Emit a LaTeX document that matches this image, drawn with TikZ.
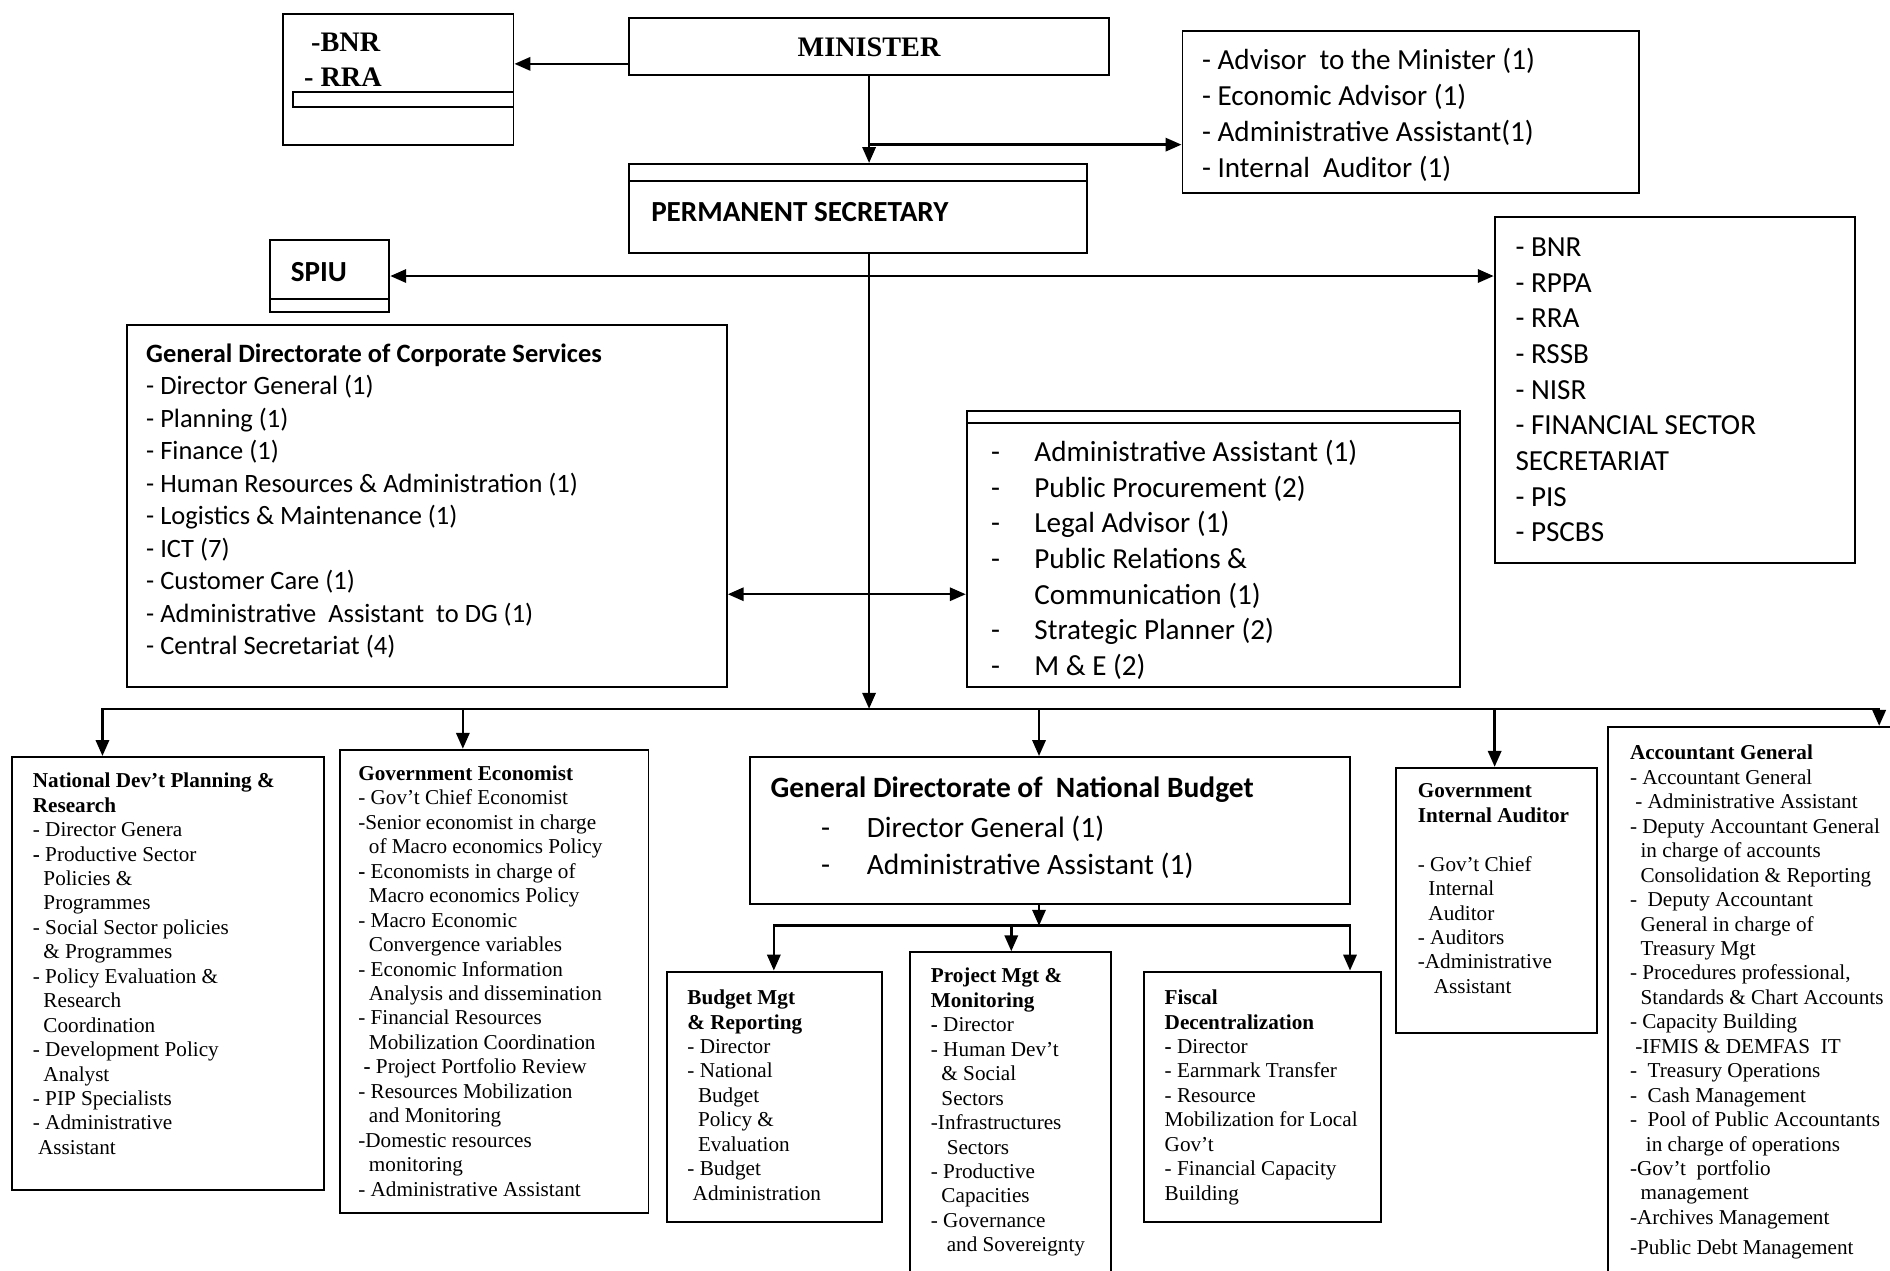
\documentclass[tikz,border=0pt]{standalone}
\usepackage{fontspec}
\setmainfont{Liberation Serif}
\newfontfamily\calfont{Carlito}
\usetikzlibrary{arrows.meta,fit}

\begin{document}
\begin{tikzpicture}[x=0.024cm, y=-0.024cm,
	box/.style={draw, line width=1.1pt, inner sep=0pt},
	link/.style={line width=1.4pt},
	arr/.style={link, -{Triangle[length=9pt,width=7.5pt]}},
	twoway/.style={link, {Triangle[length=9pt,width=7.5pt]}-{Triangle[length=9pt,width=7.5pt]}},
	cal/.style={font={\calfont\fontsize{16.5}{20.4}\selectfont}, align=left, inner sep=0pt, anchor=north west},
	tms/.style={font={\fontsize{12}{13.85}\selectfont}, align=left, inner sep=0pt, anchor=north west}]
  	\begin{scope}
	\useasboundingbox (0,0) rectangle (1568,1054);

	\node[box, fit={(235,12) (426,120)}] (bnr) {};
	\draw[line width=1.1pt] (243,76) rectangle (426,89);
	\node[box, fit={(522,15) (920,62)}] (min) {};
	\node[box, fit={(981,26) (1360,160)}] (adv) {};
	\node[box, fit={(522,136) (902,210)}] (ps) {};
	\draw[line width=1.1pt] (522,150) -- (902,150);
	\node[box, fit={(224,199) (323,259)}] (spiu) {};
	\draw[line width=1.1pt] (224,248) -- (323,248);
	\node[box, fit={(1240,180) (1539,467)}] (agen) {};
	\node[box, fit={(105,270) (603,570)}] (corp) {};
	\node[box, fit={(802,341) (1211,570)}] (supp) {};
	\draw[line width=1.1pt] (802,351) -- (1211,351);

	\node[box, fit={(10,628) (269,987)}] (natd) {};
	\node[box, fit={(282,622) (538,1006)}] (gecon) {};
	\node[box, fit={(622,628) (1120,750)}] (gdnb) {};
	\node[box, fit={(553,806) (732,1014)}] (bmgt) {};
	\node[box, fit={(755,790) (922,1080)}] (pmgt) {};
	\node[box, fit={(949,806) (1146,1014)}] (fisc) {};
	\node[box, fit={(1158,637) (1325,857)}] (gia) {};
	\node[box, fit={(1334,603) (1600,1080)}] (acg) {};

	\node[font={\bfseries\fontsize{16}{19.7}\selectfont}, align=left, inner sep=0pt, anchor=north west] (bnrt) at (252,27) {\hspace*{4pt}-BNR\\- RRA};
	\node[font={\bfseries\fontsize{16}{19}\selectfont}, inner sep=0pt] (mint) at ([yshift=-0.6pt]min.center) {MINISTER};
	\node[cal] (advt) at (997,40) {- Advisor\ \ to the Minister (1)\\- Economic Advisor (1)\\- Administrative Assistant(1)\\- Internal\ \ Auditor (1)};
	\node[cal, font={\calfont\bfseries\fontsize{16.5}{20}\selectfont}] (pst) at (540,168) {PERMANENT SECRETARY};
	\node[cal, font={\calfont\bfseries\fontsize{16.5}{20}\selectfont}] (spiut) at (241,217) {SPIU};
	\node[cal, font={\calfont\fontsize{16.5}{20.2}\selectfont}] (agent) at (1257,197) {- BNR\\- RPPA\\- RRA\\- RSSB\\- NISR\\- FINANCIAL SECTOR\\SECRETARIAT\\- PIS\\- PSCBS};
	\node[cal, font={\calfont\fontsize{15}{18.4}\selectfont}] (corpt) at (121,285) {\textbf{General Directorate of Corporate Services}\\- Director General (1)\\- Planning (1)\\- Finance (1)\\- Human Resources \& Administration (1)\\- Logistics \& Maintenance (1)\\- ICT (7)\\- Customer Care (1)\\- Administrative\ \ Assistant\ \ to DG (1)\\- Central Secretariat (4)};
	\node[cal, font={\calfont\fontsize{16.5}{20.2}\selectfont}] (suppt) at (822,365) {\makebox[24.5pt][l]{-}Administrative Assistant (1)\\\makebox[24.5pt][l]{-}Public Procurement (2)\\\makebox[24.5pt][l]{-}Legal Advisor (1)\\\makebox[24.5pt][l]{-}Public Relations \&\\\hspace*{24.5pt}Communication (1)\\\makebox[24.5pt][l]{-}Strategic Planner (2)\\\makebox[24.5pt][l]{-}M \& E (2)};
	\node[cal, font={\calfont\fontsize{16.7}{21}\selectfont}] (gdnbt) at (639,644) {\textbf{General Directorate of\ \ National Budget}\\[2pt]\hspace*{28.6pt}\makebox[25.9pt][l]{-}Director General (1)\\\hspace*{28.6pt}\makebox[25.9pt][l]{-}Administrative Assistant (1)};

	\node[tms] (natdt) at (27,641) {\textbf{National Dev’t Planning \&}\\\textbf{Research}\\- Director Genera\\\textbf{-} Productive Sector\\\hspace*{6pt}Policies \&\\\hspace*{6pt}Programmes\\- Social Sector policies\\\hspace*{6pt}\& Programmes\\- Policy Evaluation \&\\\hspace*{6pt}Research\\\hspace*{6pt}Coordination\\- Development Policy\\\hspace*{6pt}Analyst\\- PIP Specialists\\- Administrative\\\hspace*{3pt}Assistant};
	\node[tms] (gecont) at (297,635) {\textbf{Government Economist}\\- Gov’t Chief Economist\\-Senior economist in charge\\\hspace*{6pt}of Macro economics Policy\\\textbf{-} Economists in charge of\\\hspace*{6pt}Macro economics Policy\\- Macro Economic\\\hspace*{6pt}Convergence variables\\- Economic Information\\\hspace*{6pt}Analysis and dissemination\\- Financial Resources\\\hspace*{6pt}Mobilization Coordination\\\hspace*{3pt}\textbf{-} Project Portfolio Review\\- Resources Mobilization\\\hspace*{6pt}and Monitoring\\-Domestic resources\\\hspace*{6pt}monitoring\\- Administrative Assistant};
	\node[tms] (bmgtt) at (570,821) {\textbf{Budget Mgt}\\\textbf{\& Reporting}\\- Director\\- National\\\hspace*{6pt}Budget\\\hspace*{6pt}Policy \&\\\hspace*{6pt}Evaluation\\- Budget\\\hspace*{3pt}Administration};
	\node[tms] (pmgtt) at (772,803) {\textbf{Project Mgt \&}\\\textbf{Monitoring}\\\textbf{-} Director\\- Human Dev’t\\\hspace*{6pt}\& Social\\\hspace*{6pt}Sectors\\-Infrastructures\\\hspace*{9pt}Sectors\\- Productive\\\hspace*{6pt}Capacities\\- Governance\\\hspace*{9pt}and Sovereignty};
	\node[tms] (fisct) at (966,821) {\textbf{Fiscal}\\\textbf{Decentralization}\\\textbf{-} Director\\- Earnmark Transfer\\- Resource\\Mobilization for Local\\Gov’t\\- Financial Capacity\\Building};
	\node[tms] (giat) at (1176,650) {\textbf{Government}\\\textbf{Internal Auditor}\\[13.85pt]- Gov’t Chief\\\hspace*{6pt}Internal\\\hspace*{6pt}Auditor\\- Auditors\\-Administrative\\\hspace*{9pt}Assistant};
	\node[tms] (acgt) at (1352,618) {\textbf{Accountant General}\\- Accountant General\\\hspace*{3pt}- Administrative Assistant\\- Deputy Accountant General\\\hspace*{6pt}in charge of accounts\\\hspace*{6pt}Consolidation \& Reporting\\-\ \ Deputy Accountant\\\hspace*{6pt}General in charge of\\\hspace*{6pt}Treasury Mgt\\- Procedures professional,\\\hspace*{6pt}Standards \& Chart Accounts\\- Capacity Building\\\hspace*{3pt}-IFMIS \& DEMFAS\ \ IT\\-\ \ Treasury Operations\\-\ \ Cash Management\\-\ \ Pool of Public Accountants\\\hspace*{9pt}in charge of operations\\-Gov’t\ \ portfolio\\\hspace*{6pt}management\\-Archives Management\\[3pt]-Public Debt Management};

	\draw[arr] ([yshift=-9.9pt]min.west) -- ([yshift=-9.9pt]min.west -| bnr.east);
	\draw[arr] (min.south) -- (min.south |- ps.north);
	\coordinate (mbr) at (721,120);
	\draw[arr] (mbr) -- (mbr -| adv.west);
	\coordinate (b0) at (721,588);
	\draw[arr] (min.south |- ps.south) -- (b0);
	\draw[twoway] (spiu.east) -- (spiu.east -| agen.west);
	\coordinate (cs) at (700,493);
	\draw[twoway] (cs -| corp.east) -- (cs -| supp.west);

	\coordinate (b1) at (85,588);
	\coordinate (b2) at (384,588);
	\coordinate (b3) at (862,588);
	\coordinate (b4) at (1240,588);
	\coordinate (b5) at (1559,588);
	\draw[arr] (b5) -- (b1) -- (b1 |- natd.north);
	\draw[arr] (b2) -- (b2 |- gecon.north);
	\draw[arr] (b3) -- (b3 |- gdnb.north);
	\draw[arr] (b4) -- (b4 |- gia.north);
	\draw[arr] (b1) -- (b5) -- (b5 |- acg.north);

	\coordinate (s0) at (862,768);
	\coordinate (s1) at (642,768);
	\coordinate (s2) at (839,768);
	\coordinate (s3) at (1120,768);
	\draw[arr] (s0 |- gdnb.south) -- (s0);
	\draw[arr] (s3) -- (s1) -- (s1 |- bmgt.north);
	\draw[arr] (s2) -- (s2 |- pmgt.north);
	\draw[arr] (s1) -- (s3) -- (s3 |- fisc.north);
  	\end{scope}
\end{tikzpicture}
\end{document}
